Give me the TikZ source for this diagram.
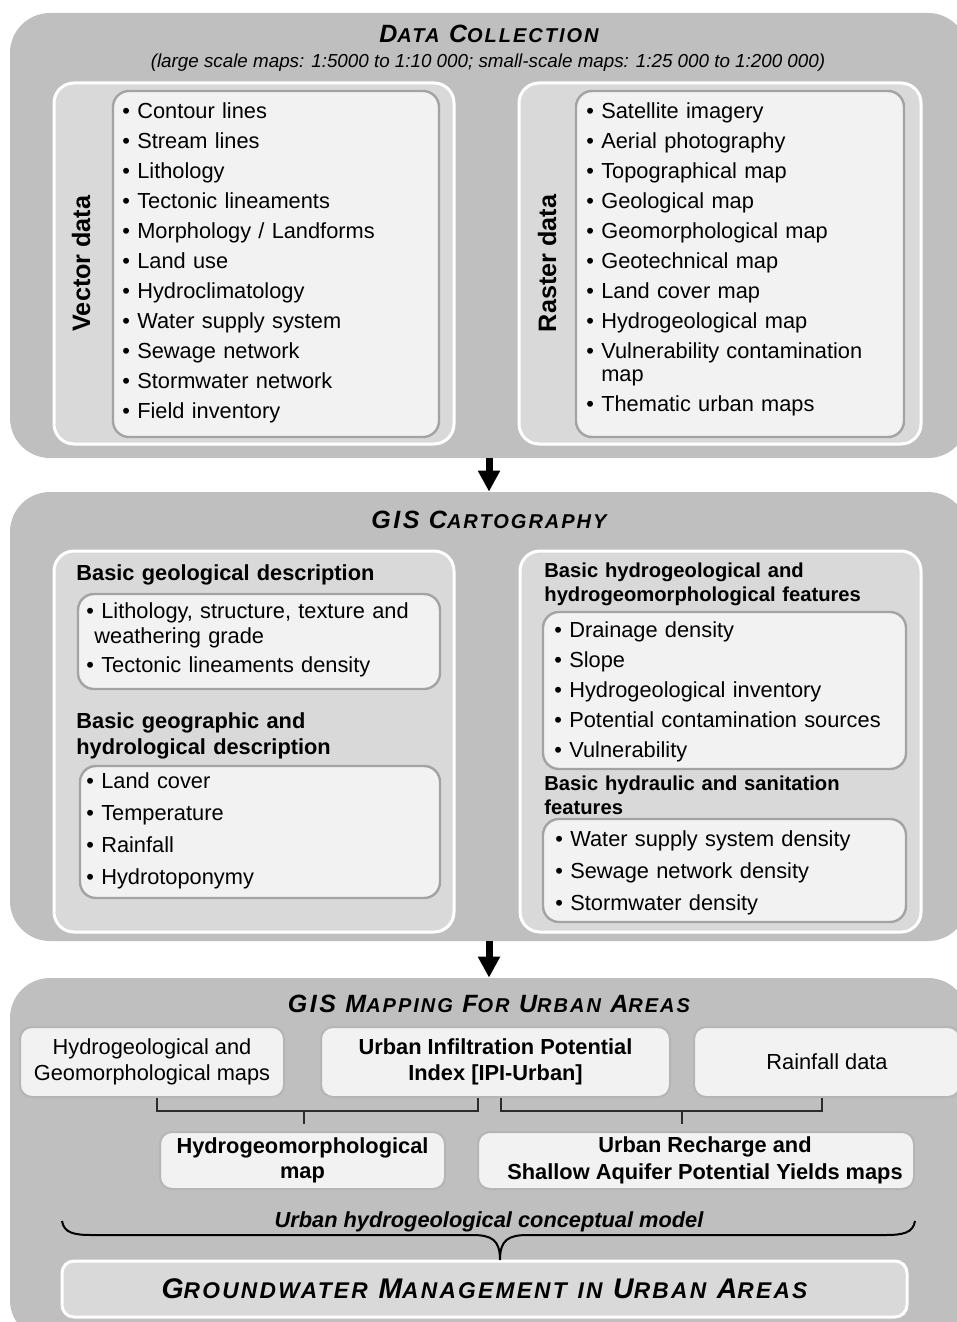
\documentclass[tikz,border=0pt]{standalone}
\usepackage{fontspec}
\setmainfont{Liberation Sans}
\newfontfamily\capsfont[LetterSpace=10]{Liberation Sans}
\usetikzlibrary{fit,arrows.meta}
\definecolor{panelgray}{HTML}{BFBFBF}
\definecolor{groupgray}{HTML}{D9D9D9}
\definecolor{listgray}{HTML}{F2F2F2}
\definecolor{rimgray}{HTML}{A3A3A3}
\definecolor{linkgray}{HTML}{2B2B2B}
\makeatletter
\newcommand\sml[1]{{\fontsize{\strip@pt\dimexpr\f@size pt*4/5\relax}{12}\selectfont #1}}
\makeatother
\newcommand\cont{\phantom{•~}}

\begin{document}
\begin{tikzpicture}[x=0.5pt,y=-0.5pt,
  panel/.style={fill=panelgray, draw=none, inner sep=0, rounded corners=20pt},
  group/.style={fill=groupgray, draw=white, line width=1.5pt, inner sep=0, rounded corners=10pt},
  listbox/.style={fill=listgray, draw=rimgray, line width=1.2pt, inner sep=0, rounded corners=8pt},
  rowbox/.style={fill=listgray, draw=rimgray!80, line width=1pt, inner sep=0, rounded corners=6pt,
    align=center, font=\fontsize{10.9}{13}\selectfont},
  items/.style={anchor=base west, inner sep=0, text width=170pt, align=left,
    font=\fontsize{10.9}{11.5}\selectfont},
  head/.style={anchor=base west, inner sep=0, text width=190pt, align=left,
    font=\fontsize{10.9}{13}\bfseries\selectfont},
  ttl/.style={anchor=base, inner sep=0, font=\capsfont\fontsize{12.5}{15}\bfseries\itshape\selectfont},
  side/.style={rotate=90, anchor=base, inner sep=0, font=\fontsize{12.6}{15}\bfseries\selectfont},
  flow/.style={line width=3.5pt, -{Triangle[width=10.5pt,length=10.5pt]}},
  link/.style={draw=linkgray, line width=1pt}]
  \useasboundingbox (0,0) rectangle (957,1322);
  \clip (0,0) rectangle (957,1322);

  % data collection
  \node[panel, fit={(10,13) (968,458)}] (collect) {};
  \node[ttl] (tcollect) at (489,43) {D\sml{ATA} C\sml{OLLECTION}};
  \node[anchor=base, inner sep=0, font=\fontsize{9.4}{11}\itshape\selectfont] (tscale) at (488,68)
    {(large scale maps: 1:5000 to 1:10 000; small-scale maps: 1:25 000 to 1:200 000)};
  \node[group, fit={(54,83) (454,444)}] (vector) {};
  \node[listbox, fit={(113,91) (439,437)}] (vbox) {};
  \node[side] (vlabel) at (90,263.5) {Vector data};
  \node[items] (vitems) at (122,119) {• Contour lines\\[3.5pt] • Stream lines\\[3.5pt] • Lithology\\[3.5pt]
    • Tectonic lineaments\\[3.5pt] • Morphology / Landforms\\[3.5pt] • Land use\\[3.5pt]
    • Hydroclimatology\\[3.5pt] • Water supply system\\[3.5pt] • Sewage network\\[3.5pt]
    • Stormwater network\\[3.5pt] • Field inventory};
  \node[group, fit={(519,83) (921,444)}] (raster) {};
  \node[listbox, fit={(576,91) (904,437)}] (rbox) {};
  \node[side] (rlabel) at (556,263.5) {Raster data};
  \node[items] (ritems) at (586,119) {• Satellite imagery\\[3.5pt] • Aerial photography\\[3.5pt]
    • Topographical map\\[3.5pt] • Geological map\\[3.5pt] • Geomorphological map\\[3.5pt]
    • Geotechnical map\\[3.5pt] • Land cover map\\[3.5pt] • Hydrogeological map\\[3.5pt]
    • Vulnerability contamination\\ \cont map\\[3.5pt] • Thematic urban maps};

  % gis cartography
  \node[panel, fit={(10,492) (968,941)}] (carto) {};
  \node[ttl] (tcarto) at (489,528) {GIS C\sml{ARTOGRAPHY}};
  \node[group, fit={(54,551) (454,932)}] (geo) {};
  \node[head] (hgeo) at (76,580) {Basic geological description};
  \node[listbox, fit={(78,594) (440,689)}] (geobox) {};
  \node[items] (geoitems) at (86,618) {• Lithology, structure, texture and\\[1pt]
    \hspace*{4pt}weathering grade\\[3pt] • Tectonic lineaments density};
  \node[head] (hgeog) at (76,728) {Basic geographic and\\hydrological description};
  \node[listbox, fit={(80,766) (440,898)}] (geogbox) {};
  \node[items] (geogitems) at (86,788) {• Land cover\\[4.6pt] • Temperature\\[4.6pt] • Rainfall\\[4.6pt]
    • Hydrotoponymy};
  \node[group, fit={(520,551) (921,932)}] (hydro) {};
  \node[head, font=\fontsize{10.1}{12}\bfseries\selectfont] (hhydro) at (544,577)
    {Basic hydrogeological and\\hydrogeomorphological features};
  \node[listbox, fit={(543,612) (906,769)}] (hydrobox) {};
  \node[items] (hydroitems) at (554,637) {• Drainage density\\[3.5pt] • Slope\\[3.5pt]
    • Hydrogeological inventory\\[3.5pt] • Potential contamination sources\\[3.5pt] • Vulnerability};
  \node[head, font=\fontsize{10.1}{12}\bfseries\selectfont] (hsanit) at (544,790)
    {Basic hydraulic and sanitation\\features};
  \node[listbox, fit={(543,819) (906,922)}] (sanitbox) {};
  \node[items] (sanititems) at (555,846) {• Water supply system density\\[4.5pt]
    • Sewage network density\\[4.5pt] • Stormwater density};

  % gis mapping
  \node[panel, fit={(10,978) (968,1340)}] (mapping) {};
  \node[ttl] (tmapping) at (489,1012) {GIS M\sml{APPING} F\sml{OR} U\sml{RBAN} A\sml{REAS}};
  \node[rowbox, minimum width=132pt, minimum height=35pt] (hgmaps) at (152,1062)
    {Hydrogeological and\\Geomorphological maps};
  \node[rowbox, minimum width=174.5pt, minimum height=35pt, font=\fontsize{10.9}{13}\bfseries\selectfont]
    (ipi) at (495.5,1062) {Urban Infiltration Potential\\Index [IPI-Urban]};
  \node[rowbox, minimum width=133pt, minimum height=35pt] (rain) at (827,1062) {Rainfall data};
  \node[rowbox, minimum width=142.5pt, minimum height=28.5pt, font=\fontsize{10.9}{12.5}\bfseries\selectfont]
    (hgmorph) at (302.5,1160.5) {Hydrogeomorphological\\map};
  \node[rowbox, minimum width=218pt, minimum height=28.5pt, font=\fontsize{10.9}{13.5}\bfseries\selectfont]
    (recharge) at (696,1160.5)
    {\hspace*{9pt}Urban Recharge and\\\hspace*{9pt}Shallow Aquifer Potential Yields maps};
  \coordinate (jl) at (304,1111);
  \coordinate (jr) at (682,1111);
  \draw[link] ([xshift=2.5pt]hgmaps.south) |- (jl) -| ([xshift=-8.75pt]ipi.south);
  \draw[link] ([xshift=2.75pt]ipi.south) |- (jr) -| ([xshift=-2.5pt]rain.south);
  \draw[link, shorten >=3.5pt] (jl) -- (hgmorph.north -| jl);
  \draw[link, shorten >=3.5pt] (jr) -- (recharge.north -| jr);
  \node[anchor=base, inner sep=0, font=\fontsize{10.9}{13}\bfseries\itshape\selectfont] (model)
    at (489,1227) {Urban hydrogeological conceptual model};
  \node[group, minimum width=422.5pt, minimum height=28pt, rounded corners=6pt,
    font=\capsfont\fontsize{14.2}{17}\bfseries\itshape\selectfont] (goal) at (484.5,1289)
    {G\sml{ROUNDWATER} M\sml{ANAGEMENT} \sml{IN} U\sml{RBAN} A\sml{REAS}};
  \draw[line width=1pt] (62,1221) .. controls (64,1233) and (74,1235) .. (92,1235) -- (472,1235)
    .. controls (492,1235) and (500,1240) .. (500,1260)
    .. controls (500,1240) and (508,1235) .. (528,1235) -- (885,1235)
    .. controls (903,1235) and (913,1233) .. (915,1221);

  \draw[flow] (collect.south) -- (carto.north);
  \draw[flow] (carto.south) -- (mapping.north);
\end{tikzpicture}
\end{document}
